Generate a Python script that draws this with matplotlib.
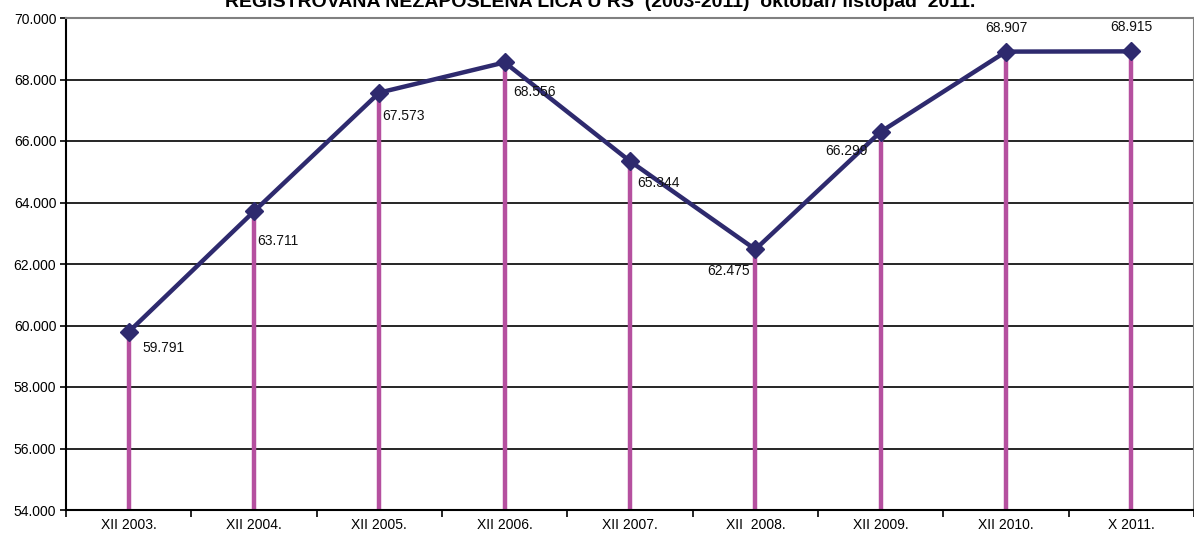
import matplotlib
matplotlib.use("Agg")
import matplotlib.pyplot as plt
from matplotlib.ticker import FuncFormatter

plt.rcParams['font.family'] = ['Liberation Sans', 'DejaVu Sans']

# data
categories = ['XII 2003.', 'XII 2004.', 'XII 2005.', 'XII 2006.', 'XII 2007.',
              'XII  2008.', 'XII 2009.', 'XII 2010.', 'X 2011.']
values = [59791, 63711, 67573, 68556, 65344, 62475, 66299, 68907, 68915]
value_labels = ['59.791', '63.711', '67.573', '68.556', '65.344',
                '62.475', '66.299', '68.907', '68.915']

# label placement (pixel offsets from point, alignment)
label_offsets = [(14, -16, 'left'), (3, -30, 'left'), (3, -23, 'left'),
                 (9, -30, 'left'), (7, -22, 'left'), (-5, -22, 'right'),
                 (-13, -19, 'right'), (0, 24, 'center'), (0, 24, 'center')]

NAVY = '#2E2A6E'
MAGENTA = '#B5509F'

fig = plt.figure(figsize=(11.94, 5.38), dpi=100)
ax = fig.add_axes([66 / 1194, 28 / 538, 1128 / 1194, 492 / 538])

x = list(range(len(categories)))
ax.set_xlim(-0.5, len(categories) - 0.5)
ax.set_ylim(54000, 70000)

# gridlines
for yv in range(56000, 70000, 2000):
    ax.axhline(yv, color='black', lw=1.2, zorder=1)

# drop lines from each point to the axis
ax.vlines(x, 54000, values, color=MAGENTA, lw=3.2, zorder=2)
ax.plot(x, values, color=NAVY, lw=3.2, marker='D', markersize=9.5,
        zorder=3, solid_joinstyle='miter')

for xi, v, lab, (dx, dy, ha) in zip(x, values, value_labels, label_offsets):
    ax.annotate(lab, (xi, v), xytext=(dx * 0.72, dy * 0.72),
                textcoords='offset points', ha=ha, va='center',
                fontsize=10, color='#111111', zorder=4)

ax.set_yticks(range(54000, 70001, 2000))
ax.yaxis.set_major_formatter(FuncFormatter(lambda v, p: f'{v/1000:.3f}'))
ax.set_xticks([i - 0.5 for i in range(len(categories) + 1)])
ax.set_xticklabels([])
ax.set_xticks(x, minor=True)
ax.set_xticklabels(categories, minor=True)
ax.tick_params(axis='x', which='minor', length=0, pad=6, labelsize=10)
ax.tick_params(axis='x', which='major', length=5, width=1.2, direction='out')
ax.tick_params(axis='y', length=4, width=1.2, pad=3, labelsize=10)

for side in ['left', 'bottom']:
    ax.spines[side].set_linewidth(1.5)
    ax.spines[side].set_color('black')
for side in ['top', 'right']:
    ax.spines[side].set_color('#808080')
    ax.spines[side].set_linewidth(1.5)

# title is cut off at the top edge, as in the source image
fig.text(0.503, 1 - 7 / 538,
         'REGISTROVANA NEZAPOSLENA LICA U RS  (2003-2011)  oktobar/ listopad  2011.',
         ha='center', va='baseline', fontsize=14, fontweight='bold')

fig.savefig('out.png', dpi=100)
